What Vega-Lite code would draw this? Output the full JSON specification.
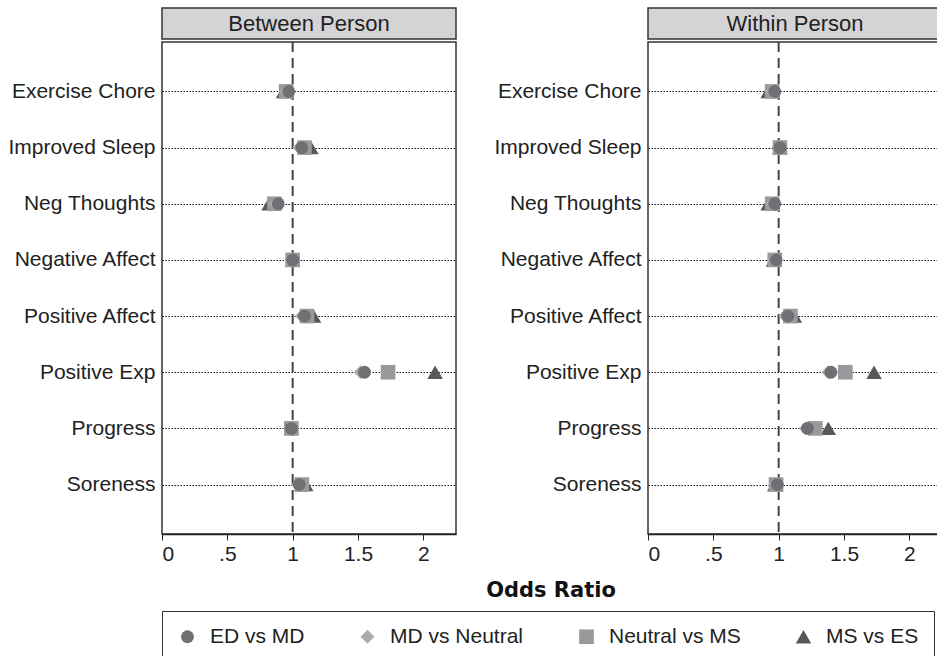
{
  "$schema": "https://vega.github.io/schema/vega-lite/v6.json",
  "padding": {"left": 7, "top": 7, "right": 0, "bottom": 0},
  "background": "white",
  "config": {
    "font": "Liberation Sans",
    "view": {"stroke": "#333", "strokeWidth": 1.5},
    "axis": {"labelFont": "Liberation Sans", "labelColor": "#222", "titleFont": "Liberation Sans"},
    "legend": {
      "orient": "none",
      "legendX": 0,
      "legendY": 603,
      "direction": "horizontal",
      "title": null,
      "labelFont": "Liberation Sans",
      "labelFontSize": 21,
      "labelColor": "#222",
      "labelOffset": 12,
      "columnPadding": 52,
      "symbolStrokeWidth": 0,
      "padding": 15,
      "strokeColor": "#333",
      "fillColor": "white"
    }
  },
  "datasets": {
    "between": [
      {"category": "Exercise Chore", "comparison": "MS vs ES", "or": 0.93},
      {"category": "Exercise Chore", "comparison": "Neutral vs MS", "or": 0.95},
      {"category": "Exercise Chore", "comparison": "MD vs Neutral", "or": 0.95},
      {"category": "Exercise Chore", "comparison": "ED vs MD", "or": 0.97},
      {"category": "Improved Sleep", "comparison": "MS vs ES", "or": 1.14},
      {"category": "Improved Sleep", "comparison": "Neutral vs MS", "or": 1.09},
      {"category": "Improved Sleep", "comparison": "MD vs Neutral", "or": 1.05},
      {"category": "Improved Sleep", "comparison": "ED vs MD", "or": 1.07},
      {"category": "Neg Thoughts", "comparison": "MS vs ES", "or": 0.82},
      {"category": "Neg Thoughts", "comparison": "Neutral vs MS", "or": 0.86},
      {"category": "Neg Thoughts", "comparison": "MD vs Neutral", "or": 0.87},
      {"category": "Neg Thoughts", "comparison": "ED vs MD", "or": 0.89},
      {"category": "Negative Affect", "comparison": "MS vs ES", "or": 1.0},
      {"category": "Negative Affect", "comparison": "Neutral vs MS", "or": 1.0},
      {"category": "Negative Affect", "comparison": "MD vs Neutral", "or": 0.99},
      {"category": "Negative Affect", "comparison": "ED vs MD", "or": 1.0},
      {"category": "Positive Affect", "comparison": "MS vs ES", "or": 1.16},
      {"category": "Positive Affect", "comparison": "Neutral vs MS", "or": 1.11},
      {"category": "Positive Affect", "comparison": "MD vs Neutral", "or": 1.07},
      {"category": "Positive Affect", "comparison": "ED vs MD", "or": 1.09},
      {"category": "Positive Exp", "comparison": "MS vs ES", "or": 2.09},
      {"category": "Positive Exp", "comparison": "Neutral vs MS", "or": 1.73},
      {"category": "Positive Exp", "comparison": "MD vs Neutral", "or": 1.52},
      {"category": "Positive Exp", "comparison": "ED vs MD", "or": 1.55},
      {"category": "Progress", "comparison": "MS vs ES", "or": 0.99},
      {"category": "Progress", "comparison": "Neutral vs MS", "or": 0.99},
      {"category": "Progress", "comparison": "MD vs Neutral", "or": 0.98},
      {"category": "Progress", "comparison": "ED vs MD", "or": 0.99},
      {"category": "Soreness", "comparison": "MS vs ES", "or": 1.1},
      {"category": "Soreness", "comparison": "Neutral vs MS", "or": 1.07},
      {"category": "Soreness", "comparison": "MD vs Neutral", "or": 1.04},
      {"category": "Soreness", "comparison": "ED vs MD", "or": 1.05}
    ],
    "within": [
      {"category": "Exercise Chore", "comparison": "MS vs ES", "or": 0.92},
      {"category": "Exercise Chore", "comparison": "Neutral vs MS", "or": 0.95},
      {"category": "Exercise Chore", "comparison": "MD vs Neutral", "or": 0.95},
      {"category": "Exercise Chore", "comparison": "ED vs MD", "or": 0.97},
      {"category": "Improved Sleep", "comparison": "MS vs ES", "or": 1.01},
      {"category": "Improved Sleep", "comparison": "Neutral vs MS", "or": 1.01},
      {"category": "Improved Sleep", "comparison": "MD vs Neutral", "or": 1.0},
      {"category": "Improved Sleep", "comparison": "ED vs MD", "or": 1.01},
      {"category": "Neg Thoughts", "comparison": "MS vs ES", "or": 0.92},
      {"category": "Neg Thoughts", "comparison": "Neutral vs MS", "or": 0.95},
      {"category": "Neg Thoughts", "comparison": "MD vs Neutral", "or": 0.95},
      {"category": "Neg Thoughts", "comparison": "ED vs MD", "or": 0.97},
      {"category": "Negative Affect", "comparison": "MS vs ES", "or": 0.96},
      {"category": "Negative Affect", "comparison": "Neutral vs MS", "or": 0.97},
      {"category": "Negative Affect", "comparison": "MD vs Neutral", "or": 0.96},
      {"category": "Negative Affect", "comparison": "ED vs MD", "or": 0.98},
      {"category": "Positive Affect", "comparison": "MS vs ES", "or": 1.12},
      {"category": "Positive Affect", "comparison": "Neutral vs MS", "or": 1.09},
      {"category": "Positive Affect", "comparison": "MD vs Neutral", "or": 1.05},
      {"category": "Positive Affect", "comparison": "ED vs MD", "or": 1.07},
      {"category": "Positive Exp", "comparison": "MS vs ES", "or": 1.73},
      {"category": "Positive Exp", "comparison": "Neutral vs MS", "or": 1.51},
      {"category": "Positive Exp", "comparison": "MD vs Neutral", "or": 1.38},
      {"category": "Positive Exp", "comparison": "ED vs MD", "or": 1.4},
      {"category": "Progress", "comparison": "MS vs ES", "or": 1.38},
      {"category": "Progress", "comparison": "Neutral vs MS", "or": 1.28},
      {"category": "Progress", "comparison": "MD vs Neutral", "or": 1.21},
      {"category": "Progress", "comparison": "ED vs MD", "or": 1.22},
      {"category": "Soreness", "comparison": "MS vs ES", "or": 0.97},
      {"category": "Soreness", "comparison": "Neutral vs MS", "or": 0.98},
      {"category": "Soreness", "comparison": "MD vs Neutral", "or": 0.98},
      {"category": "Soreness", "comparison": "ED vs MD", "or": 0.99}
    ]
  },
  "vconcat": [
    {
      "hconcat": [
        {
          "vconcat": [
            {
              "width": 294,
              "height": 31,
              "view": {"fill": "#d4d4d6", "stroke": "#333", "strokeWidth": 1.5},
              "data": {"values": [{"panel": "Between Person"}]},
              "mark": {"type": "text", "fontSize": 22, "color": "#222", "font": "Liberation Sans", "baseline": "middle"},
              "encoding": {"text": {"field": "panel"}}
            },
            {
              "width": 294,
              "height": 492,
              "layer": [
                {
                  "data": {"values": [{"ref": 1}]},
                  "mark": {"type": "rule", "color": "#444", "strokeDash": [10, 6], "strokeWidth": 2},
                  "encoding": {"x": {"field": "ref", "type": "quantitative", "scale": {"domain": [0, 2.25], "nice": false}}}
                },
                {
                  "data": {"name": "between"},
                  "mark": {"type": "point", "filled": true, "opacity": 1},
                  "encoding": {
                    "x": {
                      "field": "or", "type": "quantitative",
                      "scale": {"domain": [0, 2.25], "nice": false},
                      "axis": {"title": null, "values": [0, 0.5, 1, 1.5, 2], "format": "~g", "labelExpr": "datum.value == 0.5 ? '.5' : datum.label", "labelFontSize": 21, "tickSize": 6, "tickColor": "#222", "domainColor": "#222", "domainWidth": 1.5, "labelPadding": 3, "grid": false}
                    },
                    "y": {
                      "field": "category", "type": "nominal",
                      "sort": ["Exercise Chore", "Improved Sleep", "Neg Thoughts", "Negative Affect", "Positive Affect", "Positive Exp", "Progress", "Soreness"],
                      "scale": {"type": "point", "padding": 0.88},
                      "axis": {"title": null, "domain": false, "ticks": false, "labelFontSize": 21, "labelPadding": 7, "grid": true, "gridDash": [1.5, 1.5], "gridColor": "#111", "gridWidth": 1}
                    },
                    "color": {
                      "field": "comparison", "type": "nominal",
                      "scale": {"domain": ["ED vs MD", "MD vs Neutral", "Neutral vs MS", "MS vs ES"], "range": ["#707074", "#ababab", "#9a9a9c", "#58585a"]}
                    },
                    "shape": {
                      "field": "comparison", "type": "nominal",
                      "scale": {"domain": ["ED vs MD", "MD vs Neutral", "Neutral vs MS", "MS vs ES"], "range": ["circle", "diamond", "square", "triangle-up"]}
                    },
                    "size": {
                      "field": "comparison", "type": "nominal",
                      "scale": {"domain": ["ED vs MD", "MD vs Neutral", "Neutral vs MS", "MS vs ES"], "range": [165, 240, 150, 175]}
                    }
                  }
                }
              ]
            }
          ],
          "spacing": 0
        },
        {
          "vconcat": [
            {
              "width": 294,
              "height": 31,
              "view": {"fill": "#d4d4d6", "stroke": "#333", "strokeWidth": 1.5},
              "data": {"values": [{"panel": "Within Person"}]},
              "mark": {"type": "text", "fontSize": 22, "color": "#222", "font": "Liberation Sans", "baseline": "middle"},
              "encoding": {"text": {"field": "panel"}}
            },
            {
              "width": 294,
              "height": 492,
              "layer": [
                {
                  "data": {"values": [{"ref": 1}]},
                  "mark": {"type": "rule", "color": "#444", "strokeDash": [10, 6], "strokeWidth": 2},
                  "encoding": {"x": {"field": "ref", "type": "quantitative", "scale": {"domain": [0, 2.25], "nice": false}}}
                },
                {
                  "data": {"name": "within"},
                  "mark": {"type": "point", "filled": true, "opacity": 1},
                  "encoding": {
                    "x": {
                      "field": "or", "type": "quantitative",
                      "scale": {"domain": [0, 2.25], "nice": false},
                      "axis": {"title": null, "values": [0, 0.5, 1, 1.5, 2], "format": "~g", "labelExpr": "datum.value == 0.5 ? '.5' : datum.label", "labelFontSize": 21, "tickSize": 6, "tickColor": "#222", "domainColor": "#222", "domainWidth": 1.5, "labelPadding": 3, "grid": false}
                    },
                    "y": {
                      "field": "category", "type": "nominal",
                      "sort": ["Exercise Chore", "Improved Sleep", "Neg Thoughts", "Negative Affect", "Positive Affect", "Positive Exp", "Progress", "Soreness"],
                      "scale": {"type": "point", "padding": 0.88},
                      "axis": {"title": null, "domain": false, "ticks": false, "labelFontSize": 21, "labelPadding": 7, "grid": true, "gridDash": [1.5, 1.5], "gridColor": "#111", "gridWidth": 1}
                    },
                    "color": {
                      "field": "comparison", "type": "nominal",
                      "scale": {"domain": ["ED vs MD", "MD vs Neutral", "Neutral vs MS", "MS vs ES"], "range": ["#707074", "#ababab", "#9a9a9c", "#58585a"]}
                    },
                    "shape": {
                      "field": "comparison", "type": "nominal",
                      "scale": {"domain": ["ED vs MD", "MD vs Neutral", "Neutral vs MS", "MS vs ES"], "range": ["circle", "diamond", "square", "triangle-up"]}
                    },
                    "size": {
                      "field": "comparison", "type": "nominal",
                      "scale": {"domain": ["ED vs MD", "MD vs Neutral", "Neutral vs MS", "MS vs ES"], "range": [165, 240, 150, 175]}
                    }
                  }
                }
              ]
            }
          ],
          "spacing": 0
        }
      ],
      "spacing": 36
    },
    {
      "width": 778,
      "height": 52,
      "view": {"stroke": null},
      "data": {"values": [{"t": "Odds Ratio"}]},
      "mark": {"type": "text", "fontSize": 21, "font": "DejaVu Sans", "fontWeight": "bold", "color": "#111", "baseline": "middle"},
      "encoding": {"text": {"field": "t"}}
    }
  ],
  "spacing": 0
}
